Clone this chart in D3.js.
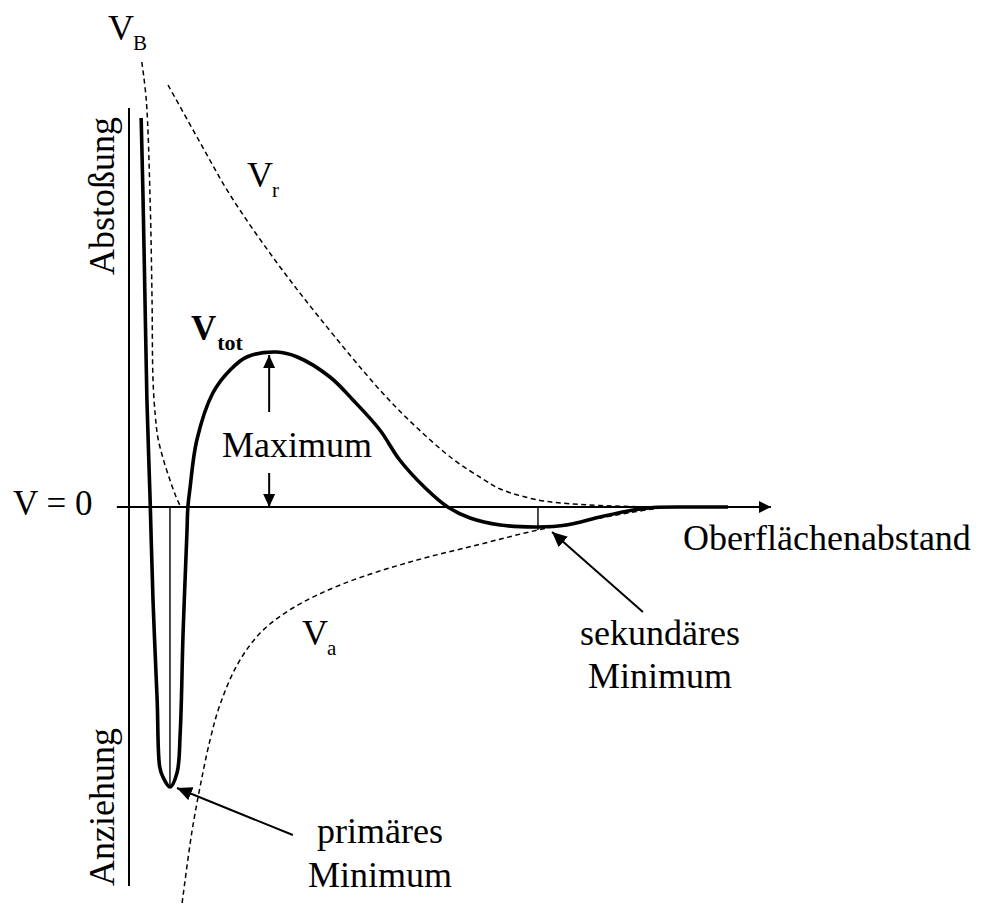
<!DOCTYPE html>
<html><head><meta charset="utf-8">
<script src="https://cdn.jsdelivr.net/npm/d3@7"></script>
<style>
html,body{margin:0;padding:0;background:#fff;}
svg text{font-family:"Liberation Serif","Times New Roman",serif;fill:#000;}
</style></head><body>
<svg id="chart" width="982" height="907"></svg>
<script>
// DLVO potential curves: [surface distance, energy] in arbitrary units

// total interaction energy V_tot
const totalPotential = [
  [0.19, 7.78], [0.22, 6.14], [0.25, 4.14], [0.28, 2.14], [0.33, 0.14],
  [0.375, -1.86], [0.44, -3.86], [0.48, -5.2], [0.53, -5.4], [0.64, -5.6],
  [0.75, -5.32], [0.80, -4.52], [0.845, -2.52], [0.905, -0.52], [0.92, 0],
  [0.95, 0.34], [1.06, 1.34], [1.31, 2.28], [1.58, 2.74], [1.84, 3.0],
  [2.31, 3.1], [2.63, 3.0], [3.14, 2.6], [3.5, 2.14], [3.92, 1.54],
  [4.23, 0.94], [4.63, 0.38], [4.98, 0], [5.33, -0.22], [5.8, -0.36],
  [6.39, -0.40], [6.84, -0.36], [7.36, -0.2], [7.88, -0.06], [8.19, -0.01],
  [8.77, 0], [9.36, 0]
];

// Born repulsion V_B
const bornRepulsion = [
  [0.20, 8.9], [0.27, 8.14], [0.33, 6.14], [0.36, 4.14], [0.375, 2.54],
  [0.41, 1.84], [0.45, 1.4], [0.53, 0.98], [0.64, 0.54], [0.73, 0.22], [0.80, 0.02]
];

// electrostatic double-layer repulsion V_r
const doubleLayerRepulsion = [
  [0.61, 8.44], [1.08, 7.36], [1.58, 6.24], [2.28, 4.94], [2.98, 3.78],
  [3.92, 2.34], [4.47, 1.62], [5.06, 0.96], [5.53, 0.56], [5.8, 0.36],
  [6.39, 0.14], [6.84, 0.07], [7.36, 0.03], [8.14, 0]
];

// van der Waals attraction V_a
const vdwAttraction = [
  [0.83, -7.92], [0.98, -6.52], [1.11, -5.6], [1.27, -4.64], [1.42, -3.96],
  [1.69, -3.16], [2.05, -2.52], [2.56, -2.02], [3.34, -1.54], [4.39, -1.1],
  [5.44, -0.76], [6.39, -0.46], [7.36, -0.22], [7.88, -0.1], [8.3, -0.02]
];

// characteristic points of V_tot
const primaryMinimum = [0.64, -5.6];
const secondaryMinimum = [6.39, -0.46];
const barrierMaximum = [2.19, 3.04];

// axis extent
const distanceAxis = [-0.19, 10.03];
const energyAxis = [-7.58, 7.98];

// labels
const curveLabels = {
  born: ["V", "B"], repulsion: ["V", "r"], total: ["V", "tot"], attraction: ["V", "a"]
};
const axisLabels = { zero: "V = 0", distance: "Oberflächenabstand", up: "Abstoßung", down: "Anziehung" };
const noteLabels = { maximum: "Maximum", secondary: ["sekundäres", "Minimum"], primary: ["primäres", "Minimum"] };

const svg = d3.select("#chart");
const x = d3.scaleLinear().domain([0, 10]).range([129, 769]);
const y = d3.scaleLinear().domain([-8, 8]).range([907, 107]);

const defs = svg.append("defs");
function arrowMarker(id, len, half) {
  defs.append("marker")
    .attr("id", id).attr("markerUnits", "userSpaceOnUse")
    .attr("viewBox", `0 ${-half} ${len} ${2 * half}`)
    .attr("refX", len).attr("refY", 0)
    .attr("markerWidth", len).attr("markerHeight", 2 * half)
    .attr("orient", "auto")
    .append("path").attr("d", `M0,${-half}L${len},0L0,${half}Z`).attr("fill", "#000");
}
arrowMarker("head-axis", 12, 6);
arrowMarker("head-small", 13, 6);
arrowMarker("head-note", 15, 7);

const smooth = d3.line().x(d => x(d[0])).y(d => y(d[1])).curve(d3.curveCatmullRom.alpha(0.5));
const straight = d3.line().x(d => x(d[0])).y(d => y(d[1]));

// axes
svg.append("path").attr("d", straight([[0, energyAxis[0]], [0, energyAxis[1]]]))
  .attr("stroke", "#000").attr("stroke-width", 2).attr("fill", "none");
svg.append("path").attr("d", straight([[distanceAxis[0], 0], [distanceAxis[1], 0]]))
  .attr("stroke", "#000").attr("stroke-width", 2).attr("fill", "none")
  .attr("marker-end", "url(#head-axis)");

// component curves (dashed)
[bornRepulsion, doubleLayerRepulsion, vdwAttraction].forEach(series => {
  svg.append("path").attr("d", smooth(series))
    .attr("fill", "none").attr("stroke", "#000").attr("stroke-width", 1.5)
    .attr("stroke-dasharray", "5,3.5");
});

// minimum markers
[primaryMinimum, secondaryMinimum].forEach(p => {
  svg.append("path").attr("d", straight([[p[0], 0], p]))
    .attr("stroke", "#000").attr("stroke-width", 1.4).attr("fill", "none");
});

// total curve
svg.append("path").attr("d", smooth(totalPotential))
  .attr("fill", "none").attr("stroke", "#000").attr("stroke-width", 3.6)
  .attr("stroke-linejoin", "round").attr("stroke-linecap", "butt");

// barrier height arrows
svg.append("path").attr("d", straight([[barrierMaximum[0], 1.9], [barrierMaximum[0], barrierMaximum[1]]]))
  .attr("stroke", "#000").attr("stroke-width", 2).attr("marker-end", "url(#head-small)");
svg.append("path").attr("d", straight([[barrierMaximum[0], 0.68], [barrierMaximum[0], 0]]))
  .attr("stroke", "#000").attr("stroke-width", 2).attr("marker-end", "url(#head-small)");

// pointer arrows to the minima
svg.append("path").attr("d", straight([[2.56, -6.56], [primaryMinimum[0] + 0.11, primaryMinimum[1] - 0.02]]))
  .attr("stroke", "#000").attr("stroke-width", 2).attr("marker-end", "url(#head-note)");
svg.append("path").attr("d", straight([[8.03, -2.1], [secondaryMinimum[0] + 0.22, secondaryMinimum[1] - 0.04]]))
  .attr("stroke", "#000").attr("stroke-width", 2).attr("marker-end", "url(#head-note)");

// text
function label(txt, px, py, size, opts = {}) {
  const t = svg.append("text").attr("x", px).attr("y", py).attr("font-size", size).text(txt);
  if (opts.bold) t.attr("font-weight", "bold");
  if (opts.anchor) t.attr("text-anchor", opts.anchor);
  if (opts.rotate) t.attr("transform", `rotate(-90 ${px} ${py})`);
  return t;
}
// symbol with subscript, kept in one text element
function symbol(parts, px, py, size, subSize, dx, opts = {}) {
  const t = label(parts[0], px, py, size, opts);
  t.append("tspan").attr("font-size", subSize).attr("dx", dx).attr("dy", 10).text(parts[1]);
  return t;
}
symbol(curveLabels.born, 108, 40, 36, 21, -1);
symbol(curveLabels.repulsion, 247, 187, 36, 21, -1);
symbol(curveLabels.total, 191, 340, 35, 22, 1, { bold: true });
symbol(curveLabels.attraction, 302, 645, 36, 21, -1);

label(axisLabels.zero, 13, 515, 35);
label(axisLabels.distance, 683, 550, 36);
label(axisLabels.up, 114, 275, 36, { rotate: true });
label(axisLabels.down, 114, 886, 36, { rotate: true });

label(noteLabels.maximum, 222, 457, 36);
label(noteLabels.secondary[0], 660, 645, 36, { anchor: "middle" });
label(noteLabels.secondary[1], 660, 688, 36, { anchor: "middle" });
label(noteLabels.primary[0], 380, 843, 36, { anchor: "middle" });
label(noteLabels.primary[1], 380, 887, 36, { anchor: "middle" });
</script>
</body></html>
